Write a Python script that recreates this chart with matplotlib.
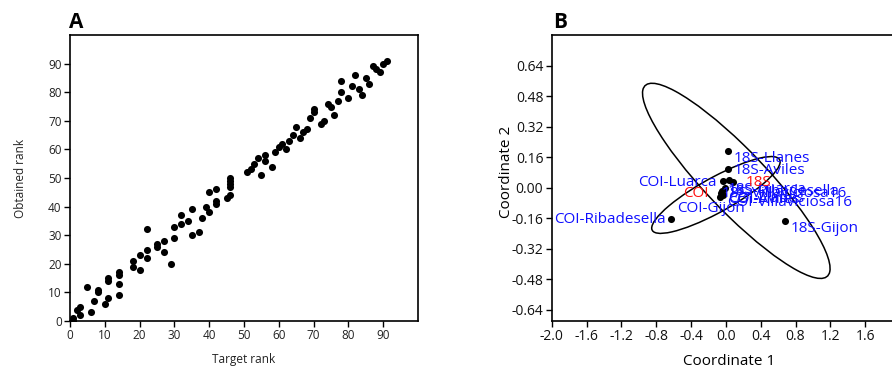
import numpy as np
import matplotlib
matplotlib.use("Agg")
import matplotlib.pyplot as plt
from matplotlib.patches import Ellipse

plt.rcParams['font.family'] = ['Open Sans', 'DejaVu Sans']

# ---------------- Panel A data ----------------
target_rank = [1, 1, 2, 3, 3, 5, 6, 7, 8, 8, 10, 11, 11, 11, 14, 14, 14, 14,
               18, 18, 20, 20, 22, 22, 22, 25, 25, 27, 27, 29, 30, 30, 32, 32,
               34, 35, 35, 37, 38, 39, 40, 40, 42, 42, 42, 45, 46, 46, 46, 46,
               46, 51, 52, 53, 54, 55, 56, 56, 58, 59, 60, 61, 62, 63, 64, 65,
               66, 67, 68, 69, 70, 70, 72, 73, 74, 75, 76, 77, 78, 78, 80, 81,
               82, 83, 84, 85, 86, 87, 88, 89, 90, 91]
obtained_rank = [1, 0, 4, 5, 2, 12, 3, 7, 11, 10, 6, 8, 15, 14, 9, 13, 17, 16,
                 21, 19, 23, 18, 32, 25, 22, 27, 26, 28, 24, 20, 33, 29, 37, 34,
                 35, 39, 30, 31, 36, 40, 45, 38, 46, 42, 41, 43, 44, 50, 49, 48,
                 47, 52, 53, 55, 57, 51, 58, 56, 54, 59, 61, 62, 60, 63, 65, 68,
                 64, 66, 67, 71, 74, 73, 69, 70, 76, 75, 72, 77, 84, 80, 78, 82,
                 86, 81, 79, 85, 83, 89, 88, 87, 90, 91]
a_ticks = list(range(0, 100, 10))

# ---------------- Panel B data ----------------
samples = ['18S-Llanes', '18S-Aviles', '18S-Gijon', 'COI-Ribadesella',
           'COI-Luarca', '18S-Luarca', '18S-Ribadesella', '18S-Villaviciosa16',
           'COI-Gijon', 'COI-Llanes', 'COI-Aviles', 'COI-Villaviciosa16']
coord1 = [0.030, 0.030, 0.682, -0.632, -0.028, 0.041, 0.080, -0.008,
          -0.066, -0.046, -0.058, -0.030]
coord2 = [0.194, 0.097, -0.175, -0.163, 0.032, 0.040, 0.030, 0.000,
          -0.051, -0.016, -0.030, -0.040]

group_names = ['18S', 'COI']
# 95% ellipse: centre and covariance terms (sxx, syy, sxy)
ell_center_x = [0.12, -0.114]
ell_center_y = [0.035, -0.039]
ell_sxx = [1.16, 0.544]
ell_syy = [0.262, 0.0406]
ell_sxy = [-0.495, 0.128]

b_xticks = [-2.0, -1.6, -1.2, -0.8, -0.4, 0.0, 0.4, 0.8, 1.2, 1.6]
b_yticks = [-0.64, -0.48, -0.32, -0.16, 0.0, 0.16, 0.32, 0.48, 0.64]

# label placement (annotation anchors, data coords) and alignment
label_x = {'18S-Llanes': 0.087, '18S-Aviles': 0.087, '18S-Gijon': 0.739,
           'COI-Ribadesella': -0.686, 'COI-Luarca': -0.103, '18S-Luarca': 0.026,
           '18S-Ribadesella': 0.026, '18S-Villaviciosa16': -0.044,
           'COI-Gijon': -0.563, 'COI-Llanes': 0.026, 'COI-Aviles': 0.026,
           'COI-Villaviciosa16': 0.016}
label_y = {'18S-Llanes': 0.154, '18S-Aviles': 0.089, '18S-Gijon': -0.213,
           'COI-Ribadesella': -0.170, 'COI-Luarca': 0.026, '18S-Luarca': -0.012,
           '18S-Ribadesella': -0.023, '18S-Villaviciosa16': -0.030,
           'COI-Gijon': -0.108, 'COI-Llanes': -0.059, 'COI-Aviles': -0.065,
           'COI-Villaviciosa16': -0.077}
right_aligned = {'COI-Ribadesella', 'COI-Luarca'}
group_label_x = [0.222, -0.200]
group_label_y = [0.026, -0.029]
group_label_ha = ['left', 'right']

W, H = 892, 368
fig = plt.figure(figsize=(W / 100, H / 100), dpi=100)

# ---------------- Panel A ----------------
axA = fig.add_axes([70 / W, 47 / H, 348 / W, 286 / H])
axA.scatter(target_rank, obtained_rank, s=26, color='black', linewidths=0, zorder=3)
axA.set_xlim(0, 100)
axA.set_ylim(0, 100)
axA.set_xticks(a_ticks)
axA.set_yticks(a_ticks)
axA.tick_params(direction='out', length=4, width=1, labelsize=8.5,
                labelcolor='#222222', pad=2)
for sp in axA.spines.values():
    sp.set_linewidth(1.2)
axA.set_xlabel('Target rank', fontsize=8.5, color='#222222')
axA.set_ylabel('Obtained rank', fontsize=8.5, color='#222222')
axA.xaxis.set_label_coords(0.5, -0.112)
axA.yaxis.set_label_coords(-0.124, 0.5)
fig.text(69 / W, 1 - 28 / H, 'A', fontsize=15, fontweight='bold', va='baseline')

# ---------------- Panel B ----------------
axB = fig.add_axes([551.7 / W, 47 / H, 348.3 / W, 286 / H])
axB.set_xlim(-2.0, 2.0)
axB.set_ylim(-0.70, 0.80)
for cx, cy, sxx, syy, sxy in zip(ell_center_x, ell_center_y, ell_sxx, ell_syy, ell_sxy):
    cov = np.array([[sxx, sxy], [sxy, syy]])
    vals, vecs = np.linalg.eigh(cov)
    ang = np.degrees(np.arctan2(vecs[1, 1], vecs[0, 1]))
    e = Ellipse((cx, cy), 2 * np.sqrt(vals[1]), 2 * np.sqrt(vals[0]), angle=ang,
                fill=False, edgecolor='black', linewidth=1.1, zorder=2)
    axB.add_patch(e)
axB.scatter(coord1, coord2, s=26, color='black', linewidths=0, zorder=3)
for name in samples:
    axB.text(label_x[name], label_y[name], name, color='#1010ff', fontsize=11,
             ha='right' if name in right_aligned else 'left', va='center', zorder=4)
for g, gx, gy, ha in zip(group_names, group_label_x, group_label_y, group_label_ha):
    axB.text(gx, gy, g, color='#ff1010', fontsize=11, ha=ha, va='center', zorder=4)
axB.set_xticks(b_xticks)
axB.set_xticklabels([f'{v:.1f}' for v in b_xticks])
axB.set_yticks(b_yticks)
axB.set_yticklabels([f'{v:.2f}' for v in b_yticks])
axB.tick_params(direction='out', length=4, width=1, labelsize=10,
                labelcolor='#111111', pad=2)
for sp in axB.spines.values():
    sp.set_linewidth(1.2)
axB.set_xlabel('Coordinate 1', fontsize=11)
axB.set_ylabel('Coordinate 2', fontsize=11)
axB.xaxis.set_label_coords(0.509, -0.115)
axB.yaxis.set_label_coords(-0.108, 0.52)
fig.text(553 / W, 1 - 28 / H, 'B', fontsize=15, fontweight='bold', va='baseline')

fig.savefig('out.png', dpi=100)
